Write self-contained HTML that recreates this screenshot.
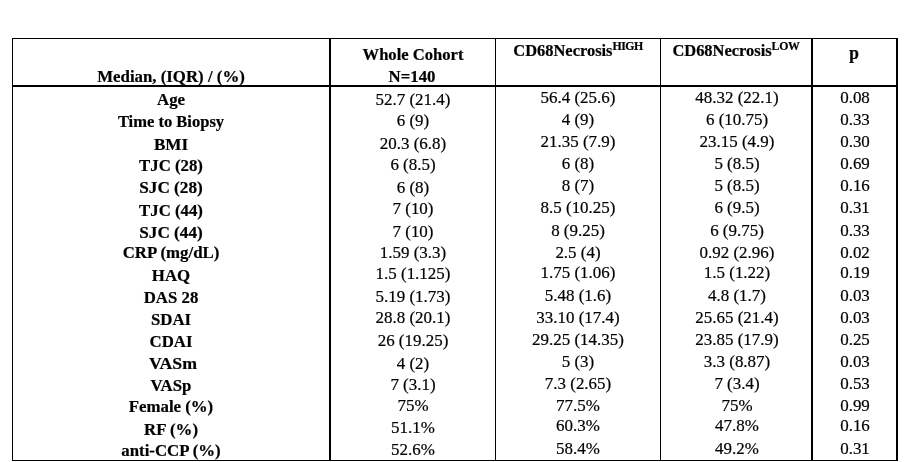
<!DOCTYPE html><html><head><meta charset="utf-8"><style>
html,body{margin:0;padding:0;background:#fff;}
body{width:910px;height:462px;position:relative;overflow:hidden;font-family:"Liberation Serif",serif;color:#000;}
.l{position:absolute;background:#000;}
.t{position:absolute;white-space:nowrap;line-height:0;height:0;transform-origin:0 0;will-change:transform;-webkit-text-stroke:0.2px #000;}
.t>span.b{display:inline-block;height:0;}
.bd{font-weight:bold;}
sup{font-size:0.72em;vertical-align:0;position:relative;}
</style></head><body>
<div class="l" style="left:12px;top:38px;width:885px;height:1px"></div>
<div class="l" style="left:12px;top:85px;width:885px;height:2px"></div>
<div class="l" style="left:12px;top:460px;width:886px;height:1px"></div>
<div class="l" style="left:12px;top:38px;width:1px;height:423px"></div>
<div class="l" style="left:329px;top:38px;width:2px;height:423px"></div>
<div class="l" style="left:495px;top:38px;width:1px;height:423px"></div>
<div class="l" style="left:660px;top:38px;width:1px;height:423px"></div>
<div class="l" style="left:811px;top:38px;width:2px;height:423px"></div>
<div class="l" style="left:896px;top:38px;width:2px;height:423px"></div>
<div class="t bd" style="left:171.40px;top:100.40px;font-size:16px;transform:scaleX(1.05) translateX(-50%)"><span class="b"></span>Age</div>
<div class="t " style="left:412.50px;top:99.80px;font-size:16px;transform:scaleX(1.06) translateX(-50%)"><span class="b"></span>52.7 (21.4)</div>
<div class="t " style="left:577.90px;top:97.75px;font-size:16px;transform:scaleX(1.06) translateX(-50%)"><span class="b"></span>56.4 (25.6)</div>
<div class="t " style="left:736.50px;top:97.75px;font-size:16px;transform:scaleX(1.06) translateX(-50%)"><span class="b"></span>48.32 (22.1)</div>
<div class="t " style="left:855.00px;top:97.75px;font-size:16px;transform:scaleX(1.06) translateX(-50%)"><span class="b"></span>0.08</div>
<div class="t bd" style="left:171.40px;top:122.40px;font-size:16px;transform:scaleX(1.033) translateX(-50%)"><span class="b"></span>Time to Biopsy</div>
<div class="t " style="left:412.50px;top:121.20px;font-size:16px;transform:scaleX(1.06) translateX(-50%)"><span class="b"></span>6 (9)</div>
<div class="t " style="left:577.90px;top:120.10px;font-size:16px;transform:scaleX(1.06) translateX(-50%)"><span class="b"></span>4 (9)</div>
<div class="t " style="left:736.50px;top:120.10px;font-size:16px;transform:scaleX(1.06) translateX(-50%)"><span class="b"></span>6 (10.75)</div>
<div class="t " style="left:855.00px;top:120.10px;font-size:16px;transform:scaleX(1.06) translateX(-50%)"><span class="b"></span>0.33</div>
<div class="t bd" style="left:171.40px;top:145.10px;font-size:16px;transform:scaleX(1.07) translateX(-50%)"><span class="b"></span>BMI</div>
<div class="t " style="left:412.50px;top:143.80px;font-size:16px;transform:scaleX(1.06) translateX(-50%)"><span class="b"></span>20.3 (6.8)</div>
<div class="t " style="left:577.90px;top:141.90px;font-size:16px;transform:scaleX(1.06) translateX(-50%)"><span class="b"></span>21.35 (7.9)</div>
<div class="t " style="left:736.50px;top:141.90px;font-size:16px;transform:scaleX(1.06) translateX(-50%)"><span class="b"></span>23.15 (4.9)</div>
<div class="t " style="left:855.00px;top:141.90px;font-size:16px;transform:scaleX(1.06) translateX(-50%)"><span class="b"></span>0.30</div>
<div class="t bd" style="left:171.40px;top:165.80px;font-size:16px;transform:scaleX(1.05) translateX(-50%)"><span class="b"></span>TJC (28)</div>
<div class="t " style="left:412.50px;top:165.20px;font-size:16px;transform:scaleX(1.06) translateX(-50%)"><span class="b"></span>6 (8.5)</div>
<div class="t " style="left:577.90px;top:164.10px;font-size:16px;transform:scaleX(1.06) translateX(-50%)"><span class="b"></span>6 (8)</div>
<div class="t " style="left:736.50px;top:164.10px;font-size:16px;transform:scaleX(1.06) translateX(-50%)"><span class="b"></span>5 (8.5)</div>
<div class="t " style="left:855.00px;top:164.10px;font-size:16px;transform:scaleX(1.06) translateX(-50%)"><span class="b"></span>0.69</div>
<div class="t bd" style="left:171.40px;top:188.40px;font-size:16px;transform:scaleX(1.075) translateX(-50%)"><span class="b"></span>SJC (28)</div>
<div class="t " style="left:412.50px;top:187.60px;font-size:16px;transform:scaleX(1.06) translateX(-50%)"><span class="b"></span>6 (8)</div>
<div class="t " style="left:577.90px;top:185.90px;font-size:16px;transform:scaleX(1.06) translateX(-50%)"><span class="b"></span>8 (7)</div>
<div class="t " style="left:736.50px;top:185.90px;font-size:16px;transform:scaleX(1.06) translateX(-50%)"><span class="b"></span>5 (8.5)</div>
<div class="t " style="left:855.00px;top:185.90px;font-size:16px;transform:scaleX(1.06) translateX(-50%)"><span class="b"></span>0.16</div>
<div class="t bd" style="left:171.40px;top:210.80px;font-size:16px;transform:scaleX(1.05) translateX(-50%)"><span class="b"></span>TJC (44)</div>
<div class="t " style="left:412.50px;top:209.20px;font-size:16px;transform:scaleX(1.06) translateX(-50%)"><span class="b"></span>7 (10)</div>
<div class="t " style="left:577.90px;top:207.90px;font-size:16px;transform:scaleX(1.06) translateX(-50%)"><span class="b"></span>8.5 (10.25)</div>
<div class="t " style="left:736.50px;top:207.90px;font-size:16px;transform:scaleX(1.06) translateX(-50%)"><span class="b"></span>6 (9.5)</div>
<div class="t " style="left:855.00px;top:207.90px;font-size:16px;transform:scaleX(1.06) translateX(-50%)"><span class="b"></span>0.31</div>
<div class="t bd" style="left:171.40px;top:233.10px;font-size:16px;transform:scaleX(1.075) translateX(-50%)"><span class="b"></span>SJC (44)</div>
<div class="t " style="left:412.50px;top:232.30px;font-size:16px;transform:scaleX(1.06) translateX(-50%)"><span class="b"></span>7 (10)</div>
<div class="t " style="left:577.90px;top:231.20px;font-size:16px;transform:scaleX(1.06) translateX(-50%)"><span class="b"></span>8 (9.25)</div>
<div class="t " style="left:736.50px;top:231.20px;font-size:16px;transform:scaleX(1.06) translateX(-50%)"><span class="b"></span>6 (9.75)</div>
<div class="t " style="left:855.00px;top:231.20px;font-size:16px;transform:scaleX(1.06) translateX(-50%)"><span class="b"></span>0.33</div>
<div class="t bd" style="left:171.40px;top:253.20px;font-size:16px;transform:scaleX(1.05) translateX(-50%)"><span class="b"></span>CRP (mg/dL)</div>
<div class="t " style="left:412.50px;top:252.70px;font-size:16px;transform:scaleX(1.06) translateX(-50%)"><span class="b"></span>1.59 (3.3)</div>
<div class="t " style="left:577.90px;top:253.10px;font-size:16px;transform:scaleX(1.06) translateX(-50%)"><span class="b"></span>2.5 (4)</div>
<div class="t " style="left:736.50px;top:253.10px;font-size:16px;transform:scaleX(1.06) translateX(-50%)"><span class="b"></span>0.92 (2.96)</div>
<div class="t " style="left:855.00px;top:253.10px;font-size:16px;transform:scaleX(1.06) translateX(-50%)"><span class="b"></span>0.02</div>
<div class="t bd" style="left:171.40px;top:276.40px;font-size:16px;transform:scaleX(1.05) translateX(-50%)"><span class="b"></span>HAQ</div>
<div class="t " style="left:412.50px;top:274.20px;font-size:16px;transform:scaleX(1.06) translateX(-50%)"><span class="b"></span>1.5 (1.125)</div>
<div class="t " style="left:577.90px;top:272.90px;font-size:16px;transform:scaleX(1.06) translateX(-50%)"><span class="b"></span>1.75 (1.06)</div>
<div class="t " style="left:736.50px;top:272.90px;font-size:16px;transform:scaleX(1.06) translateX(-50%)"><span class="b"></span>1.5 (1.22)</div>
<div class="t " style="left:855.00px;top:272.90px;font-size:16px;transform:scaleX(1.06) translateX(-50%)"><span class="b"></span>0.19</div>
<div class="t bd" style="left:171.40px;top:297.80px;font-size:16px;transform:scaleX(1.05) translateX(-50%)"><span class="b"></span>DAS 28</div>
<div class="t " style="left:412.50px;top:296.50px;font-size:16px;transform:scaleX(1.06) translateX(-50%)"><span class="b"></span>5.19 (1.73)</div>
<div class="t " style="left:577.90px;top:296.10px;font-size:16px;transform:scaleX(1.06) translateX(-50%)"><span class="b"></span>5.48 (1.6)</div>
<div class="t " style="left:736.50px;top:296.10px;font-size:16px;transform:scaleX(1.06) translateX(-50%)"><span class="b"></span>4.8 (1.7)</div>
<div class="t " style="left:855.00px;top:296.10px;font-size:16px;transform:scaleX(1.06) translateX(-50%)"><span class="b"></span>0.03</div>
<div class="t bd" style="left:171.40px;top:320.40px;font-size:16px;transform:scaleX(1.05) translateX(-50%)"><span class="b"></span>SDAI</div>
<div class="t " style="left:412.50px;top:318.20px;font-size:16px;transform:scaleX(1.06) translateX(-50%)"><span class="b"></span>28.8 (20.1)</div>
<div class="t " style="left:577.90px;top:317.90px;font-size:16px;transform:scaleX(1.06) translateX(-50%)"><span class="b"></span>33.10 (17.4)</div>
<div class="t " style="left:736.50px;top:317.90px;font-size:16px;transform:scaleX(1.06) translateX(-50%)"><span class="b"></span>25.65 (21.4)</div>
<div class="t " style="left:855.00px;top:317.90px;font-size:16px;transform:scaleX(1.06) translateX(-50%)"><span class="b"></span>0.03</div>
<div class="t bd" style="left:171.40px;top:342.10px;font-size:16px;transform:scaleX(1.05) translateX(-50%)"><span class="b"></span>CDAI</div>
<div class="t " style="left:412.50px;top:341.20px;font-size:16px;transform:scaleX(1.06) translateX(-50%)"><span class="b"></span>26 (19.25)</div>
<div class="t " style="left:577.90px;top:340.10px;font-size:16px;transform:scaleX(1.06) translateX(-50%)"><span class="b"></span>29.25 (14.35)</div>
<div class="t " style="left:736.50px;top:340.10px;font-size:16px;transform:scaleX(1.06) translateX(-50%)"><span class="b"></span>23.85 (17.9)</div>
<div class="t " style="left:855.00px;top:340.10px;font-size:16px;transform:scaleX(1.06) translateX(-50%)"><span class="b"></span>0.25</div>
<div class="t bd" style="left:172.50px;top:364.40px;font-size:16px;transform:scaleX(1.11) translateX(-50%)"><span class="b"></span>VASm</div>
<div class="t " style="left:412.50px;top:363.80px;font-size:16px;transform:scaleX(1.06) translateX(-50%)"><span class="b"></span>4 (2)</div>
<div class="t " style="left:577.90px;top:361.90px;font-size:16px;transform:scaleX(1.06) translateX(-50%)"><span class="b"></span>5 (3)</div>
<div class="t " style="left:736.50px;top:361.90px;font-size:16px;transform:scaleX(1.06) translateX(-50%)"><span class="b"></span>3.3 (8.87)</div>
<div class="t " style="left:855.00px;top:361.90px;font-size:16px;transform:scaleX(1.06) translateX(-50%)"><span class="b"></span>0.03</div>
<div class="t bd" style="left:171.40px;top:386.10px;font-size:16px;transform:scaleX(1.05) translateX(-50%)"><span class="b"></span>VASp</div>
<div class="t " style="left:412.50px;top:385.20px;font-size:16px;transform:scaleX(1.06) translateX(-50%)"><span class="b"></span>7 (3.1)</div>
<div class="t " style="left:577.90px;top:384.10px;font-size:16px;transform:scaleX(1.06) translateX(-50%)"><span class="b"></span>7.3 (2.65)</div>
<div class="t " style="left:736.50px;top:384.10px;font-size:16px;transform:scaleX(1.06) translateX(-50%)"><span class="b"></span>7 (3.4)</div>
<div class="t " style="left:855.00px;top:384.10px;font-size:16px;transform:scaleX(1.06) translateX(-50%)"><span class="b"></span>0.53</div>
<div class="t bd" style="left:171.40px;top:407.30px;font-size:16px;transform:scaleX(1.05) translateX(-50%)"><span class="b"></span>Female (%)</div>
<div class="t " style="left:412.50px;top:405.70px;font-size:16px;transform:scaleX(1.06) translateX(-50%)"><span class="b"></span>75%</div>
<div class="t " style="left:577.90px;top:405.90px;font-size:16px;transform:scaleX(1.06) translateX(-50%)"><span class="b"></span>77.5%</div>
<div class="t " style="left:736.50px;top:405.90px;font-size:16px;transform:scaleX(1.06) translateX(-50%)"><span class="b"></span>75%</div>
<div class="t " style="left:855.00px;top:405.90px;font-size:16px;transform:scaleX(1.06) translateX(-50%)"><span class="b"></span>0.99</div>
<div class="t bd" style="left:171.40px;top:429.50px;font-size:16px;transform:scaleX(1.05) translateX(-50%)"><span class="b"></span>RF (%)</div>
<div class="t " style="left:412.50px;top:427.60px;font-size:16px;transform:scaleX(1.06) translateX(-50%)"><span class="b"></span>51.1%</div>
<div class="t " style="left:577.90px;top:426.00px;font-size:16px;transform:scaleX(1.06) translateX(-50%)"><span class="b"></span>60.3%</div>
<div class="t " style="left:736.50px;top:426.00px;font-size:16px;transform:scaleX(1.06) translateX(-50%)"><span class="b"></span>47.8%</div>
<div class="t " style="left:855.00px;top:426.00px;font-size:16px;transform:scaleX(1.06) translateX(-50%)"><span class="b"></span>0.16</div>
<div class="t bd" style="left:171.40px;top:450.80px;font-size:16px;transform:scaleX(1.05) translateX(-50%)"><span class="b"></span>anti-CCP (%)</div>
<div class="t " style="left:412.50px;top:450.40px;font-size:16px;transform:scaleX(1.06) translateX(-50%)"><span class="b"></span>52.6%</div>
<div class="t " style="left:577.90px;top:448.90px;font-size:16px;transform:scaleX(1.06) translateX(-50%)"><span class="b"></span>58.4%</div>
<div class="t " style="left:736.50px;top:448.90px;font-size:16px;transform:scaleX(1.06) translateX(-50%)"><span class="b"></span>49.2%</div>
<div class="t " style="left:855.00px;top:448.90px;font-size:16px;transform:scaleX(1.06) translateX(-50%)"><span class="b"></span>0.31</div>
<div class="t bd" style="left:171.10px;top:77.10px;font-size:16px;transform:scaleX(1.051) translateX(-50%)"><span class="b"></span>Median, (IQR) / (%)</div>
<div class="t bd" style="left:412.50px;top:55.30px;font-size:16px;transform:scaleX(1.037) translateX(-50%)"><span class="b"></span>Whole Cohort</div>
<div class="t bd" style="left:412.40px;top:77.20px;font-size:16px;transform:scaleX(1.05) translateX(-50%)"><span class="b"></span>N=140</div>
<div class="t bd" style="left:578.20px;top:51.20px;font-size:16px;transform:scaleX(1.027) translateX(-50%)"><span class="b"></span>CD68Necrosis<sup style="top:-6px;letter-spacing:-0.5px">HIGH</sup></div>
<div class="t bd" style="left:735.70px;top:51.20px;font-size:16px;transform:scaleX(1.027) translateX(-50%)"><span class="b"></span>CD68Necrosis<sup style="top:-6px;letter-spacing:-0.3px">LOW</sup></div>
<div class="t bd" style="left:854.40px;top:52.50px;font-size:18px;transform:scaleX(0.97) translateX(-50%)"><span class="b"></span>p</div>
</body></html>
